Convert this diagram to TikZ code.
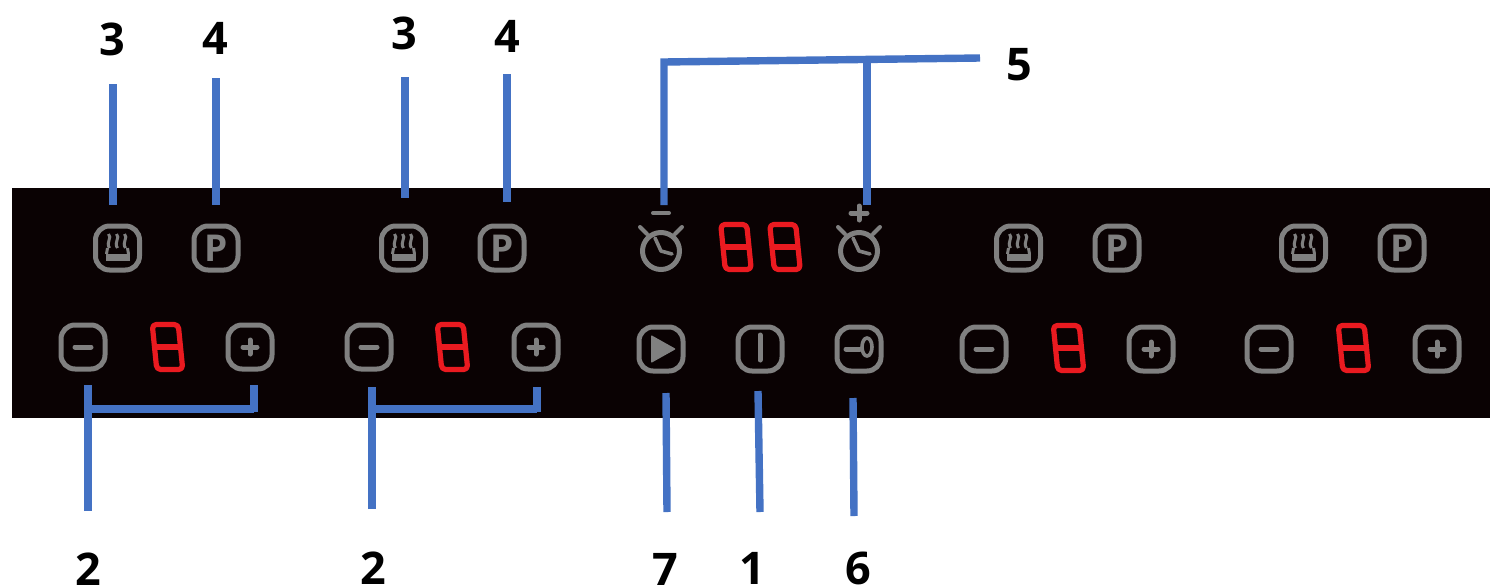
\documentclass[tikz,border=0pt]{standalone}
\usepackage{fontspec}
\setmainfont{Open Sans}
\usetikzlibrary{calc}
\definecolor{panel}{HTML}{0A0203}
\definecolor{keygray}{HTML}{808080}
\definecolor{segred}{HTML}{EA1A20}
\definecolor{leadblue}{HTML}{4472C4}
\tikzset{
  btn/.style={draw=keygray,line width=5pt,rounded corners=14pt,minimum width=44pt,minimum height=44pt,inner sep=0pt},
  icon/.style={draw=keygray,line width=5pt,line cap=round,line join=round},
  seg/.style={draw=segred,line width=5.2pt,line join=round,rounded corners=4pt},
  lead/.style={draw=leadblue,line width=7.4pt},
  lbl/.style={font=\fontsize{45}{45}\selectfont\bfseries,text=black,inner sep=0pt},
}
\newcommand\digitE[2]{\begin{scope}[shift={(#2)},xslant=-0.1]
  \node[inner sep=0pt,minimum size=0pt] (#1) at (0,0) {};
  \draw[seg] (-13,-22.5) rectangle (13,22.5);
  \draw[seg] (-13,0) -- (13,0);
\end{scope}}
\newcommand\heatkey[2]{\node[btn] (#1) at (#2) {};
 \begin{scope}[shift={(#2)}]
  \foreach \dx in {-8,0,8}{\draw[keygray,line width=3pt] (\dx-1,-14) .. controls (\dx+3,-10) and (\dx-4,-6) .. (\dx,0);}
  \fill[keygray] (-12,6) rectangle (12,13);
  \draw[keygray,line width=3pt] (-10,0) -- (-11,6) (10,0) -- (11,6);
 \end{scope}}
\newcommand\pkey[2]{\node[btn,text=keygray,font=\fontsize{37}{37}\selectfont\bfseries] (#1) at (#2) {P};}
\newcommand\minuskey[2]{\node[btn] (#1) at (#2) {};
 \begin{scope}[shift={(#2)}]\draw[icon] (-8,0) -- (8,0);\end{scope}}
\newcommand\pluskey[2]{\node[btn] (#1) at (#2) {};
 \begin{scope}[shift={(#2)}]\draw[icon] (-7,0) -- (7,0) (0,-7) -- (0,7);\end{scope}}
\newcommand\timer[2]{\node[inner sep=0pt,minimum size=37pt,circle,draw=keygray,line width=5pt] (#1) at ($(#2)+(0,6)$) {};
 \begin{scope}[shift={(#2)}]
  \draw[icon,line width=3.6pt] (-6,-7) -- (0,6) -- (11,9);
  \draw[icon,line width=4pt] (-14,-11) -- (-21,-18) (14,-11) -- (21,-18);
 \end{scope}}
\begin{document}
\begin{tikzpicture}[x=1pt,y=-1pt]
\useasboundingbox (0,0) rectangle (1490,587);
\fill[white] (0,0) rectangle (1490,587);
\fill[panel] (12,188) rectangle (1490,418);
% zone keys
\heatkey{hA}{117.5,248}\pkey{pA}{216,248}
\heatkey{hB}{403.5,248}\pkey{pB}{502,248}
\heatkey{hC}{1018.5,248}\pkey{pC}{1117,248}
\heatkey{hD}{1303.5,248}\pkey{pD}{1402,248}
\minuskey{mA}{83,347}\digitE{dA}{167.5,347}\pluskey{aA}{250,347}
\minuskey{mB}{369,347}\digitE{dB}{452.5,347}\pluskey{aB}{536,347}
\minuskey{mC}{984,349}\digitE{dC}{1068.5,348}\pluskey{aC}{1151,349}
\minuskey{mD}{1269,349}\digitE{dD}{1353.5,348}\pluskey{aD}{1437,349}
% timer
\timer{tA}{661,245}\timer{tB}{859,245}
\digitE{dE}{736,247}\digitE{dF}{785,247}
\draw[icon,line width=4pt] (653,213) -- (669,213);
\draw[icon] (851,213) -- (867,213) (859,206) -- (859,220);
% centre keys
\node[btn] (play) at (661,349) {};
\fill[keygray,rounded corners=1pt] (651,335) -- (676,349) -- (651,363) -- cycle;
\node[btn] (pow) at (760,349) {};
\draw[icon] (760,335) -- (760,360);
\node[btn] (lock) at (859,349) {};
\draw[icon] (846,349) -- (860,349);
\draw[keygray,line width=3.6pt] (867,347) ellipse (5pt and 9pt);
% labels
\node[lbl] (l3a) at (112,39) {3};
\node[lbl] (l4a) at (215,38) {4};
\node[lbl] (l3b) at (404,33.5) {3};
\node[lbl] (l4b) at (507,36) {4};
\node[lbl] (l5) at (1019,65) {5};
\node[lbl] (l2a) at (88,569) {2};
\node[lbl] (l2b) at (373,568) {2};
\node[lbl] (l7) at (665,569) {7};
\node[lbl] (l1) at (752,568) {1};
\node[lbl] (l6) at (858,568) {6};
% connector ends
\coordinate (c3a) at (113,84); \coordinate (e3a) at (113,205);
\coordinate (c4a) at (216,78); \coordinate (e4a) at (216,205);
\coordinate (c3b) at (405,77); \coordinate (e3b) at (405,198);
\coordinate (c4b) at (507,74); \coordinate (e4b) at (507,202);
\coordinate (c5) at (980,58); \coordinate (c5l) at (664,62); \coordinate (c5m) at (867,60);
\coordinate (e5l) at (664,205); \coordinate (e5m) at (867,205);
\coordinate (c2a) at (88,511); \coordinate (e2a) at (88,385);
\coordinate (j2a) at (88,409); \coordinate (r2a) at (254,409); \coordinate (t2a) at (254,385);
\coordinate (c2b) at (372,509); \coordinate (e2b) at (372,387);
\coordinate (j2b) at (372,409); \coordinate (r2b) at (537,409); \coordinate (t2b) at (537,387);
\coordinate (c7) at (667,512); \coordinate (e7) at (666,393);
\coordinate (c1) at (760,512); \coordinate (e1) at (758,391);
\coordinate (c6) at (854,516); \coordinate (e6) at (853,398);
\draw[lead] (c3a) -- (e3a);
\draw[lead] (c4a) -- (e4a);
\draw[lead] (c3b) -- (e3b);
\draw[lead] (c4b) -- (e4b);
\draw[lead,line join=miter] (e5l) -- (c5l) -- (c5);
\draw[lead] (c5m) -- (e5m);
\draw[lead] (c2a) -- (e2a);
\draw[lead] (j2a) -- (r2a);
\draw[lead] ($(r2a)+(0,3)$) -- (t2a);
\draw[lead] (c2b) -- (e2b);
\draw[lead] (j2b) -- (r2b);
\draw[lead] ($(r2b)+(0,3)$) -- (t2b);
\draw[lead] (c7) -- (e7);
\draw[lead] (c1) -- (e1);
\draw[lead] (c6) -- (e6);
\end{tikzpicture}
\end{document}
